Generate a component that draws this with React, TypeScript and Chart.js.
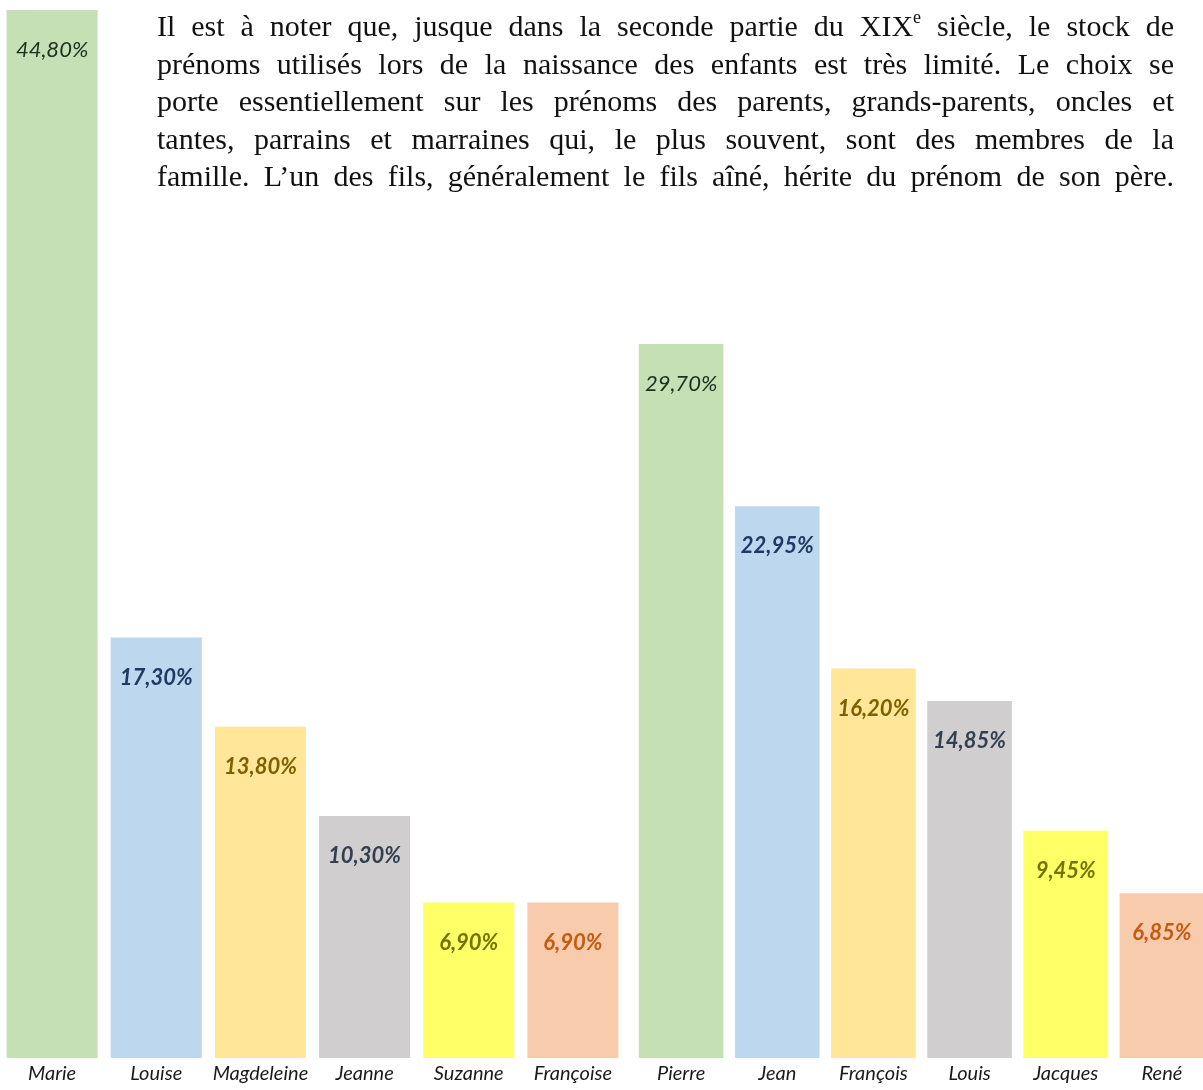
import React, { useEffect, useRef } from "react";
import { Chart, registerables } from "chart.js";

Chart.register(...registerables);

// ---- data ----
const girlNames = ["Marie", "Louise", "Magdeleine", "Jeanne", "Suzanne", "Françoise"];
const girlValues = [44.8, 17.3, 13.8, 10.3, 6.9, 6.9];
const boyNames = ["Pierre", "Jean", "François", "Louis", "Jacques", "René"];
const boyValues = [29.7, 22.95, 16.2, 14.85, 9.45, 6.85];

const barColors = ["#c5e0b4", "#bdd7ee", "#ffe699", "#d0cece", "#ffff66", "#f8cbad"];
const labelColors = ["#1f2f1f", "#1f3864", "#7f6000", "#333f50", "#737300", "#c55a11"];
const labelBold = [false, true, true, true, true, true];

const paragraphLines = [
  "Il est à noter que, jusque dans la seconde partie du XIX|e| siècle, le stock de",
  "prénoms utilisés lors de la naissance des enfants est très limité. Le choix se",
  "porte essentiellement sur les prénoms des parents, grands-parents, oncles et",
  "tantes, parrains et marraines qui, le plus souvent, sont des membres de la",
  "famille. L’un des fils, généralement le fils aîné, hérite du prénom de son père.",
];

const fmt = (v: number) => v.toFixed(2).replace(".", ",") + "%";

const valueLabelPlugin = {
  id: "valueLabels",
  afterDatasetsDraw(chart: any) {
    const { ctx, chartArea } = chart;
    const meta = chart.getDatasetMeta(0);
    const data = chart.data.datasets[0].data as number[];
    meta.data.forEach((el: any, i: number) => {
      const y = Math.max(el.y, chartArea.top) + 40;
      ctx.save();
      ctx.font = `italic ${labelBold[i] ? "bold " : ""}22px Lato, "Open Sans", sans-serif`;
      ctx.fillStyle = labelColors[i];
      ctx.textAlign = "center";
      ctx.textBaseline = "middle";
      ctx.fillText(fmt(data[i]), el.x, y);
      ctx.restore();
    });
  },
};

function BarGroup({
  names,
  values,
  width,
  barPct,
  yMin,
  yMax,
}: {
  names: string[];
  values: number[];
  width: number;
  barPct: number;
  yMin: number;
  yMax: number;
}) {
  const ref = useRef<HTMLCanvasElement | null>(null);
  useEffect(() => {
    if (!ref.current) return;
    const chart = new Chart(ref.current, {
      type: "bar",
      data: {
        labels: names,
        datasets: [
          {
            data: values,
            backgroundColor: barColors,
            borderWidth: 0,
            barPercentage: barPct,
            categoryPercentage: 1,
          },
        ],
      },
      options: {
        responsive: false,
        animation: false,
        devicePixelRatio: 1,
        layout: { padding: { top: 10, bottom: 0, left: 0, right: 0 } },
        plugins: { legend: { display: false }, tooltip: { enabled: false }, title: { display: false } },
        scales: {
          x: {
            grid: { display: false, drawTicks: false },
            border: { display: false },
            ticks: {
              padding: 4,
              color: "#1a1a1a",
              font: { family: "Lato, 'Open Sans', sans-serif", size: 20, style: "italic" },
              maxRotation: 0,
              autoSkip: false,
            },
          },
          y: {
            display: false,
            min: yMin,
            max: yMax,
          },
        },
      },
      plugins: [valueLabelPlugin],
    });
    return () => chart.destroy();
  }, []);
  return <canvas ref={ref} width={width} height={1090} style={{ display: "block", width, height: 1090 }} />;
}

function Line({ text }: { text: string }) {
  const parts = text.split("|");
  return (
    <div style={{ textAlign: "justify", textAlignLast: "justify", whiteSpace: "nowrap" } as any}>
      {parts.length === 3 ? (
        <>
          {parts[0]}
          <sup style={{ fontSize: "0.6em", lineHeight: 0, verticalAlign: "0.75em" }}>{parts[1]}</sup>
          {parts[2]}
        </>
      ) : (
        text
      )}
    </div>
  );
}

export default function App() {
  return (
    <div
      style={{
        position: "absolute",
        left: 0,
        top: 0,
        width: 1203,
        height: 1090,
        overflow: "hidden",
        background: "#ffffff",
      }}
    >
      <div style={{ position: "absolute", left: 0, top: 0 }}>
        <BarGroup names={girlNames} values={girlValues} width={625} barPct={0.874} yMin={0.8} yMax={41.93} />
      </div>
      <div style={{ position: "absolute", left: 633, top: 0 }}>
        <BarGroup names={boyNames} values={boyValues} width={577} barPct={0.88} yMin={0} yMax={43.6} />
      </div>
      <div
        style={{
          position: "absolute",
          left: 157,
          top: 7,
          width: 1017,
          fontFamily: "'Liberation Serif', 'Times New Roman', serif",
          fontSize: 30,
          lineHeight: "37.5px",
          color: "#111",
          zIndex: 2,
        }}
      >
        {paragraphLines.map((l, i) => (
          <Line key={i} text={l} />
        ))}
      </div>
    </div>
  );
}
